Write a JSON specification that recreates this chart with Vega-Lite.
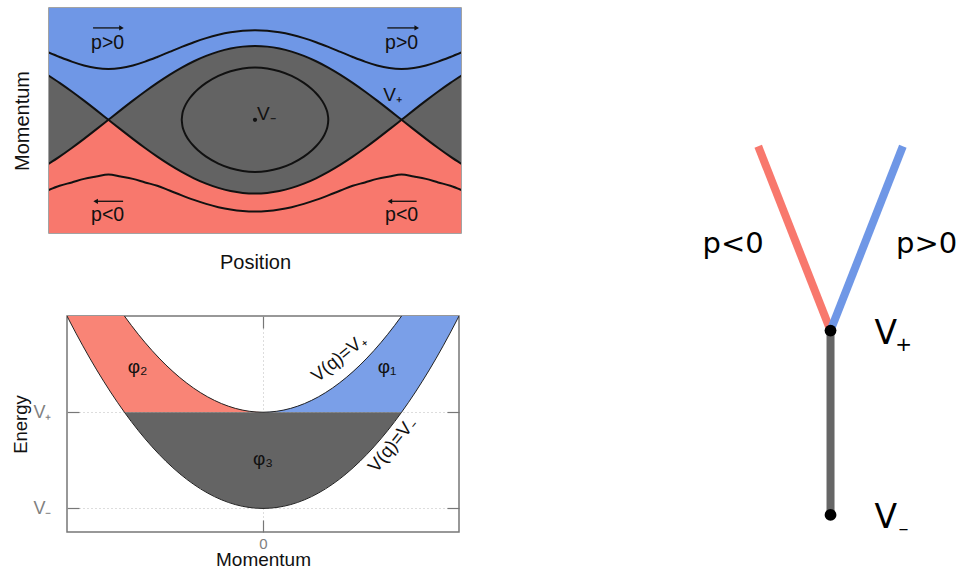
{
  "$schema": "https://vega.github.io/schema/vega-lite/v6.json",
  "background": "white",
  "padding": {"left": 4, "top": 5, "right": 0, "bottom": 0},
  "config": {
    "font": "Liberation Sans",
    "text": {"font": "Liberation Sans"},
    "axis": {"titleFont": "Liberation Sans", "labelFont": "Liberation Sans", "titleFontWeight": "normal", "titleColor": "#111"}
  },
  "datasets": {
    "phase": [
      {"q": -255, "s": -1.21752, "ns": 1.21752, "top": 1.83912, "bot": -1.91895},
      {"q": -240, "s": -1.0, "ns": 1.0, "top": 1.70294, "bot": -1.78885},
      {"q": -225, "s": -0.76537, "ns": 0.76537, "top": 1.57663, "bot": -1.69876},
      {"q": -210, "s": -0.51764, "ns": 0.51764, "top": 1.4724, "bot": -1.60248},
      {"q": -195, "s": -0.26105, "ns": 0.26105, "top": 1.40291, "bot": -1.53888},
      {"q": -180, "s": 0, "ns": 0, "top": 1.3784, "bot": -1.48324},
      {"q": -165, "s": 0.26105, "ns": -0.26105, "top": 1.40291, "bot": -1.53888},
      {"q": -150, "s": 0.51764, "ns": -0.51764, "top": 1.4724, "bot": -1.60248},
      {"q": -135, "s": 0.76537, "ns": -0.76537, "top": 1.57663, "bot": -1.69876},
      {"q": -120, "s": 1.0, "ns": -1.0, "top": 1.70294, "bot": -1.78885},
      {"q": -105, "s": 1.21752, "ns": -1.21752, "top": 1.83912, "bot": -1.91895},
      {"q": -90, "s": 1.41421, "ns": -1.41421, "top": 1.97484, "bot": -2.04939},
      {"q": -75, "s": 1.58671, "ns": -1.58671, "top": 2.10182, "bot": -2.17201},
      {"q": -60, "s": 1.73205, "ns": -1.73205, "top": 2.21359, "bot": -2.28035},
      {"q": -45, "s": 1.84776, "ns": -1.84776, "top": 2.30526, "bot": -2.36943},
      {"q": -30, "s": 1.93185, "ns": -1.93185, "top": 2.37319, "bot": -2.43558},
      {"q": -15, "s": 1.98289, "ns": -1.98289, "top": 2.41493, "bot": -2.47626},
      {"q": 0, "s": 2.0, "ns": -2.0, "top": 2.42899, "bot": -2.48998},
      {"q": 15, "s": 1.98289, "ns": -1.98289, "top": 2.41493, "bot": -2.47626},
      {"q": 30, "s": 1.93185, "ns": -1.93185, "top": 2.37319, "bot": -2.43558},
      {"q": 45, "s": 1.84776, "ns": -1.84776, "top": 2.30526, "bot": -2.36943},
      {"q": 60, "s": 1.73205, "ns": -1.73205, "top": 2.21359, "bot": -2.28035},
      {"q": 75, "s": 1.58671, "ns": -1.58671, "top": 2.10182, "bot": -2.17201},
      {"q": 90, "s": 1.41421, "ns": -1.41421, "top": 1.97484, "bot": -2.04939},
      {"q": 105, "s": 1.21752, "ns": -1.21752, "top": 1.83912, "bot": -1.91895},
      {"q": 120, "s": 1.0, "ns": -1.0, "top": 1.70294, "bot": -1.78885},
      {"q": 135, "s": 0.76537, "ns": -0.76537, "top": 1.57663, "bot": -1.69876},
      {"q": 150, "s": 0.51764, "ns": -0.51764, "top": 1.4724, "bot": -1.60248},
      {"q": 165, "s": 0.26105, "ns": -0.26105, "top": 1.40291, "bot": -1.53888},
      {"q": 180, "s": 0, "ns": 0, "top": 1.3784, "bot": -1.48324},
      {"q": 195, "s": -0.26105, "ns": 0.26105, "top": 1.40291, "bot": -1.53888},
      {"q": 210, "s": -0.51764, "ns": 0.51764, "top": 1.4724, "bot": -1.60248},
      {"q": 225, "s": -0.76537, "ns": 0.76537, "top": 1.57663, "bot": -1.69876},
      {"q": 240, "s": -1.0, "ns": 1.0, "top": 1.70294, "bot": -1.78885},
      {"q": 255, "s": -1.21752, "ns": 1.21752, "top": 1.83912, "bot": -1.91895}
    ],
    "orbit": [
      {"i": 1, "q": -90, "p": 0},
      {"i": 2, "q": -89, "p": 0.18683},
      {"i": 3, "q": -88, "p": 0.26419},
      {"i": 4, "q": -85, "p": 0.4175},
      {"i": 5, "q": -80, "p": 0.58933},
      {"i": 6, "q": -75, "p": 0.71947},
      {"i": 7, "q": -70, "p": 0.82706},
      {"i": 8, "q": -60, "p": 1.0},
      {"i": 9, "q": -45, "p": 1.18921},
      {"i": 10, "q": -30, "p": 1.31607},
      {"i": 11, "q": -15, "p": 1.38991},
      {"i": 12, "q": 0, "p": 1.41421},
      {"i": 13, "q": 15, "p": 1.38991},
      {"i": 14, "q": 30, "p": 1.31607},
      {"i": 15, "q": 45, "p": 1.18921},
      {"i": 16, "q": 60, "p": 1.0},
      {"i": 17, "q": 70, "p": 0.82706},
      {"i": 18, "q": 75, "p": 0.71947},
      {"i": 19, "q": 80, "p": 0.58933},
      {"i": 20, "q": 85, "p": 0.4175},
      {"i": 21, "q": 88, "p": 0.26419},
      {"i": 22, "q": 89, "p": 0.18683},
      {"i": 23, "q": 90, "p": 0},
      {"i": 24, "q": 89, "p": -0.18683},
      {"i": 25, "q": 88, "p": -0.26419},
      {"i": 26, "q": 85, "p": -0.4175},
      {"i": 27, "q": 80, "p": -0.58933},
      {"i": 28, "q": 75, "p": -0.71947},
      {"i": 29, "q": 70, "p": -0.82706},
      {"i": 30, "q": 60, "p": -1.0},
      {"i": 31, "q": 45, "p": -1.18921},
      {"i": 32, "q": 30, "p": -1.31607},
      {"i": 33, "q": 15, "p": -1.38991},
      {"i": 34, "q": 0, "p": -1.41421},
      {"i": 35, "q": -15, "p": -1.38991},
      {"i": 36, "q": -30, "p": -1.31607},
      {"i": 37, "q": -45, "p": -1.18921},
      {"i": 38, "q": -60, "p": -1.0},
      {"i": 39, "q": -70, "p": -0.82706},
      {"i": 40, "q": -75, "p": -0.71947},
      {"i": 41, "q": -80, "p": -0.58933},
      {"i": 42, "q": -85, "p": -0.4175},
      {"i": 43, "q": -88, "p": -0.26419},
      {"i": 44, "q": -89, "p": -0.18683},
      {"i": 45, "q": -90, "p": 0}
    ],
    "plabels": [
      {"q": -181, "p": 2.08, "t": "p>0"},
      {"q": 180, "p": 2.08, "t": "p>0"},
      {"q": -181, "p": -2.57, "t": "p<0"},
      {"q": 180, "p": -2.57, "t": "p<0"}
    ],
    "arrows": [
      {"x0": -198.9, "x1": -164, "p": 2.49, "d": "r"},
      {"x0": 162.5, "x1": 198.6, "p": 2.49, "d": "r"},
      {"x0": -162, "x1": -195.7, "p": -2.21, "d": "l"},
      {"x0": 198.5, "x1": 165.7, "p": -2.21, "d": "l"}
    ],
    "vlabels": [
      {"q": 155.2, "p": 0.5, "t": "V₊"},
      {"q": 0, "p": 0, "t": "V₋"}
    ],
    "energy": [
      {"p": -2.8284, "lo": 3.0, "up": 5.0, "cb": 3.0, "ct": 3},
      {"p": -2.8, "lo": 2.92, "up": 4.92, "cb": 2.92, "ct": 3},
      {"p": -2.6, "lo": 2.38, "up": 4.38, "cb": 2.38, "ct": 3},
      {"p": -2.4, "lo": 1.88, "up": 3.88, "cb": 1.88, "ct": 3},
      {"p": -2.2, "lo": 1.42, "up": 3.42, "cb": 1.42, "ct": 3},
      {"p": -2.0, "lo": 1.0, "up": 3.0, "cb": 1.0, "ct": 3},
      {"p": -1.8, "lo": 0.62, "up": 2.62, "cb": 1.0, "ct": 2.62},
      {"p": -1.6, "lo": 0.28, "up": 2.28, "cb": 1.0, "ct": 2.28},
      {"p": -1.4, "lo": -0.02, "up": 1.98, "cb": 1.0, "ct": 1.98},
      {"p": -1.2, "lo": -0.28, "up": 1.72, "cb": 1.0, "ct": 1.72},
      {"p": -1.0, "lo": -0.5, "up": 1.5, "cb": 1.0, "ct": 1.5},
      {"p": -0.8, "lo": -0.68, "up": 1.32, "cb": 1.0, "ct": 1.32},
      {"p": -0.6, "lo": -0.82, "up": 1.18, "cb": 1.0, "ct": 1.18},
      {"p": -0.4, "lo": -0.92, "up": 1.08, "cb": 1.0, "ct": 1.08},
      {"p": -0.2, "lo": -0.98, "up": 1.02, "cb": 1.0, "ct": 1.02},
      {"p": 0, "lo": -1.0, "up": 1.0, "cb": 1.0, "ct": 1.0},
      {"p": 0.2, "lo": -0.98, "up": 1.02, "cb": 1.0, "ct": 1.02},
      {"p": 0.4, "lo": -0.92, "up": 1.08, "cb": 1.0, "ct": 1.08},
      {"p": 0.6, "lo": -0.82, "up": 1.18, "cb": 1.0, "ct": 1.18},
      {"p": 0.8, "lo": -0.68, "up": 1.32, "cb": 1.0, "ct": 1.32},
      {"p": 1.0, "lo": -0.5, "up": 1.5, "cb": 1.0, "ct": 1.5},
      {"p": 1.2, "lo": -0.28, "up": 1.72, "cb": 1.0, "ct": 1.72},
      {"p": 1.4, "lo": -0.02, "up": 1.98, "cb": 1.0, "ct": 1.98},
      {"p": 1.6, "lo": 0.28, "up": 2.28, "cb": 1.0, "ct": 2.28},
      {"p": 1.8, "lo": 0.62, "up": 2.62, "cb": 1.0, "ct": 2.62},
      {"p": 2.0, "lo": 1.0, "up": 3.0, "cb": 1.0, "ct": 3},
      {"p": 2.2, "lo": 1.42, "up": 3.42, "cb": 1.42, "ct": 3},
      {"p": 2.4, "lo": 1.88, "up": 3.88, "cb": 1.88, "ct": 3},
      {"p": 2.6, "lo": 2.38, "up": 4.38, "cb": 2.38, "ct": 3},
      {"p": 2.8, "lo": 2.92, "up": 4.92, "cb": 2.92, "ct": 3},
      {"p": 2.8284, "lo": 3.0, "up": 5.0, "cb": 3.0, "ct": 3}
    ],
    "philabels": [
      {"p": -1.81, "e": 1.95, "t": "φ₂"},
      {"p": 1.79, "e": 1.95, "t": "φ₁"},
      {"p": 0, "e": 0.02, "t": "φ₃"}
    ],
    "edges": [
      {"x": 0, "y": 1, "x2": -1, "y2": 3, "b": "p<0"},
      {"x": 0, "y": 1, "x2": 1, "y2": 3, "b": "p>0"},
      {"x": 0, "y": 1, "x2": 0, "y2": -1, "b": "bound"}
    ],
    "nodes": [
      {"x": 0, "y": 1, "t": "V", "sub": "+"},
      {"x": 0, "y": -1, "t": "V", "sub": "–"}
    ],
    "glabels": [
      {"x": -1.346, "y": 1.94, "t": "p<0"},
      {"x": 1.33, "y": 1.94, "t": "p>0"}
    ]
  },
  "hconcat": [
    {
      "spacing": 40,
      "vconcat": [
        {
          "spacing": 0,
          "hconcat": [
            {"width": 1, "height": 1, "view": {"stroke": null}, "data": {"values": [{}]}, "mark": {"type": "point", "opacity": 0}, "encoding": {}},
            {
              "width": 412,
              "height": 225,
              "view": {"stroke": "#858585", "strokeWidth": 1.5},
              "resolve": {"axis": {"x": "independent", "y": "independent"}},
              "layer": [
                {
                  "data": {"values": [{}]},
                  "mark": {"type": "rect", "color": "#6F97E6", "clip": true},
                  "encoding": {
                    "x": {"datum": -300, "type": "quantitative", "axis": null},
                    "x2": {"datum": 300},
                    "y": {"datum": 0, "type": "quantitative", "axis": null},
                    "y2": {"datum": 5}
                  }
                },
                {
                  "data": {"values": [{}]},
                  "mark": {"type": "rect", "color": "#F8786D", "clip": true},
                  "encoding": {
                    "x": {"datum": -300, "type": "quantitative", "axis": null},
                    "x2": {"datum": 300},
                    "y": {"datum": 0, "type": "quantitative", "axis": null},
                    "y2": {"datum": -5}
                  }
                },
                {
                  "data": {"name": "phase"},
                  "mark": {"type": "area", "color": "#636363", "interpolate": "monotone", "clip": true},
                  "encoding": {
                    "x": {"field": "q", "type": "quantitative", "scale": {"domain": [-253, 253], "nice": false, "zero": false},
                      "axis": {"title": "Position", "labels": false, "ticks": false, "domain": false, "grid": false, "titleFontSize": 20, "titlePadding": 19}},
                    "y": {"field": "s", "type": "quantitative", "scale": {"domain": [-3.07, 3.03], "nice": false, "zero": false},
                      "axis": {"title": "Momentum", "labels": false, "ticks": false, "domain": false, "grid": false, "titleFontSize": 20, "titlePadding": 17}},
                    "y2": {"field": "ns"}
                  }
                },
                {
                  "data": {"name": "phase"},
                  "transform": [{"fold": ["s", "ns", "top", "bot"], "as": ["curve", "v"]}],
                  "mark": {"type": "line", "color": "#111", "strokeWidth": 2, "interpolate": "monotone", "clip": true},
                  "encoding": {
                    "x": {"field": "q", "type": "quantitative", "axis": null},
                    "y": {"field": "v", "type": "quantitative", "axis": null},
                    "detail": {"field": "curve", "type": "nominal"}
                  }
                },
                {
                  "data": {"name": "orbit"},
                  "mark": {"type": "line", "color": "#111", "strokeWidth": 2, "interpolate": "catmull-rom"},
                  "encoding": {
                    "x": {"field": "q", "type": "quantitative", "axis": null},
                    "y": {"field": "p", "type": "quantitative", "axis": null},
                    "order": {"field": "i", "type": "quantitative"}
                  }
                },
                {
                  "data": {"values": [{}]},
                  "mark": {"type": "point", "filled": true, "color": "#111", "opacity": 1, "size": 18},
                  "encoding": {
                    "x": {"datum": 0, "type": "quantitative", "axis": null},
                    "y": {"datum": 0, "type": "quantitative", "axis": null}
                  }
                },
                {
                  "data": {"name": "plabels"},
                  "mark": {"type": "text", "fontSize": 19.5, "align": "center", "baseline": "middle", "color": "#111"},
                  "encoding": {
                    "x": {"field": "q", "type": "quantitative", "axis": null},
                    "y": {"field": "p", "type": "quantitative", "axis": null},
                    "text": {"field": "t"}
                  }
                },
                {
                  "data": {"name": "arrows"},
                  "mark": {"type": "rule", "color": "#111", "strokeWidth": 1.3},
                  "encoding": {
                    "x": {"field": "x0", "type": "quantitative", "axis": null},
                    "x2": {"field": "x1"},
                    "y": {"field": "p", "type": "quantitative", "axis": null}
                  }
                },
                {
                  "data": {"name": "arrows"},
                  "mark": {"type": "point", "filled": true, "color": "#111", "opacity": 1, "size": 28},
                  "encoding": {
                    "x": {"field": "x1", "type": "quantitative", "axis": null},
                    "y": {"field": "p", "type": "quantitative", "axis": null},
                    "shape": {"field": "d", "type": "nominal", "scale": {"domain": ["r", "l"], "range": ["triangle-right", "triangle-left"]}, "legend": null}
                  }
                },
                {
                  "data": {"name": "vlabels"},
                  "mark": {"type": "text", "fontSize": 19, "align": "left", "baseline": "alphabetic", "dx": 2, "color": "#111"},
                  "encoding": {
                    "x": {"field": "q", "type": "quantitative", "axis": null},
                    "y": {"field": "p", "type": "quantitative", "axis": null},
                    "text": {"field": "t"}
                  }
                }
              ]
            }
          ]
        },
        {
          "spacing": 0,
          "hconcat": [
            {"width": 1, "height": 1, "view": {"stroke": null}, "data": {"values": [{}]}, "mark": {"type": "point", "opacity": 0}, "encoding": {}},
            {
              "width": 392,
              "height": 216,
              "view": {"stroke": "#777", "strokeWidth": 1.5},
              "resolve": {"axis": {"x": "independent", "y": "independent"}},
              "layer": [
                {
                  "data": {"name": "energy"},
                  "transform": [{"filter": "datum.p <= 0"}],
                  "mark": {"type": "area", "color": "#F98476"},
                  "encoding": {
                    "x": {"field": "p", "type": "quantitative", "scale": {"domain": [-2.8284, 2.8284], "nice": false, "zero": false},
                      "axis": {"title": "Momentum", "values": [0], "domain": false, "tickSize": -12, "tickColor": "#777", "tickWidth": 1.2, "labelPadding": 16, "labelFontSize": 15, "labelColor": "#808080", "grid": true, "gridDash": [1, 3], "gridColor": "#bbb", "titleFontSize": 19, "titlePadding": -1}},
                    "y": {"field": "cb", "type": "quantitative", "scale": {"domain": [-1.49, 3], "nice": false, "zero": false},
                      "axis": {"title": "Energy", "values": [-1, 1], "labelExpr": "datum.value == 1 ? 'V₊' : 'V₋'", "domain": false, "tickSize": -12, "tickColor": "#777", "tickWidth": 1.2, "labelPadding": 28, "labelFontSize": 18, "labelColor": "#808080", "grid": true, "gridDash": [1, 3], "gridColor": "#bbb", "titleFontSize": 18.5, "titlePadding": 2}},
                    "y2": {"field": "ct"}
                  }
                },
                {
                  "data": {"name": "energy"},
                  "transform": [{"filter": "datum.p >= 0"}],
                  "mark": {"type": "area", "color": "#7A9FE8"},
                  "encoding": {
                    "x": {"field": "p", "type": "quantitative", "axis": null},
                    "y": {"field": "cb", "type": "quantitative", "axis": null},
                    "y2": {"field": "ct"}
                  }
                },
                {
                  "data": {"name": "energy"},
                  "transform": [{"filter": "abs(datum.p) <= 2.0001"}],
                  "mark": {"type": "area", "color": "#646464"},
                  "encoding": {
                    "x": {"field": "p", "type": "quantitative", "axis": null},
                    "y": {"field": "lo", "type": "quantitative", "axis": null},
                    "y2": {"datum": 1}
                  }
                },
                {
                  "data": {"name": "energy"},
                  "mark": {"type": "line", "color": "#222", "strokeWidth": 1, "interpolate": "monotone", "clip": true},
                  "encoding": {
                    "x": {"field": "p", "type": "quantitative", "axis": {"orient": "top", "title": null, "labels": false, "values": [0], "domain": false, "grid": false, "tickSize": -12, "tickColor": "#777", "tickWidth": 1.2}},
                    "y": {"field": "lo", "type": "quantitative", "axis": {"orient": "right", "title": null, "labels": false, "values": [-1, 1], "domain": false, "grid": false, "tickSize": -12, "tickColor": "#777", "tickWidth": 1.2}}
                  }
                },
                {
                  "data": {"name": "energy"},
                  "mark": {"type": "line", "color": "#222", "strokeWidth": 1, "interpolate": "monotone", "clip": true},
                  "encoding": {
                    "x": {"field": "p", "type": "quantitative", "axis": null},
                    "y": {"field": "up", "type": "quantitative", "axis": null}
                  }
                },
                {
                  "data": {"name": "philabels"},
                  "mark": {"type": "text", "fontSize": 19, "align": "center", "baseline": "middle", "color": "#111"},
                  "encoding": {
                    "x": {"field": "p", "type": "quantitative", "axis": null},
                    "y": {"field": "e", "type": "quantitative", "axis": null},
                    "text": {"field": "t"}
                  }
                },
                {
                  "data": {"values": [{}]},
                  "mark": {"type": "text", "fontSize": 18.5, "align": "center", "baseline": "middle", "angle": 321, "color": "#111", "text": "V(q)=V₊"},
                  "encoding": {
                    "x": {"datum": 1.09, "type": "quantitative", "axis": null},
                    "y": {"datum": 2.13, "type": "quantitative", "axis": null}
                  }
                },
                {
                  "data": {"values": [{}]},
                  "mark": {"type": "text", "fontSize": 18.5, "align": "center", "baseline": "middle", "angle": 309, "color": "#111", "text": "V(q)=V₋"},
                  "encoding": {
                    "x": {"datum": 1.86, "type": "quantitative", "axis": null},
                    "y": {"datum": 0.32, "type": "quantitative", "axis": null}
                  }
                }
              ]
            }
          ]
        }
      ]
    },
    {
      "width": 470,
      "height": 553,
      "view": {"stroke": null},
      "layer": [
        {
          "data": {"name": "edges"},
          "mark": {"type": "rule", "strokeWidth": 8, "strokeCap": "butt"},
          "encoding": {
            "x": {"field": "x", "type": "quantitative", "scale": {"domain": [-4.82, 1.68], "nice": false, "zero": false}, "axis": null},
            "y": {"field": "y", "type": "quantitative", "scale": {"domain": [-1.5, 4.5], "nice": false, "zero": false}, "axis": null},
            "x2": {"field": "x2"},
            "y2": {"field": "y2"},
            "color": {"field": "b", "type": "nominal", "scale": {"domain": ["p<0", "p>0", "bound"], "range": ["#F8786D", "#6F97E6", "#666666"]}, "legend": null}
          }
        },
        {
          "data": {"name": "nodes"},
          "mark": {"type": "point", "filled": true, "color": "#000", "opacity": 1, "size": 140},
          "encoding": {
            "x": {"field": "x", "type": "quantitative", "axis": null},
            "y": {"field": "y", "type": "quantitative", "axis": null}
          }
        },
        {
          "data": {"name": "nodes"},
          "mark": {"type": "text", "font": "DejaVu Sans", "fontSize": 33, "align": "left", "baseline": "alphabetic", "dx": 44, "dy": 13.5, "color": "#000"},
          "encoding": {
            "x": {"field": "x", "type": "quantitative", "axis": null},
            "y": {"field": "y", "type": "quantitative", "axis": null},
            "text": {"field": "t"}
          }
        },
        {
          "data": {"name": "nodes"},
          "mark": {"type": "text", "font": "DejaVu Sans", "fontSize": 20, "align": "center", "baseline": "middle", "dx": 73, "dy": 14.5, "color": "#000"},
          "encoding": {
            "x": {"field": "x", "type": "quantitative", "axis": null},
            "y": {"field": "y", "type": "quantitative", "axis": null},
            "text": {"field": "sub"}
          }
        },
        {
          "data": {"name": "glabels"},
          "mark": {"type": "text", "font": "DejaVu Sans", "fontSize": 29, "align": "center", "baseline": "middle", "color": "#000"},
          "encoding": {
            "x": {"field": "x", "type": "quantitative", "axis": null},
            "y": {"field": "y", "type": "quantitative", "axis": null},
            "text": {"field": "t"}
          }
        }
      ]
    }
  ],
  "spacing": 20
}
